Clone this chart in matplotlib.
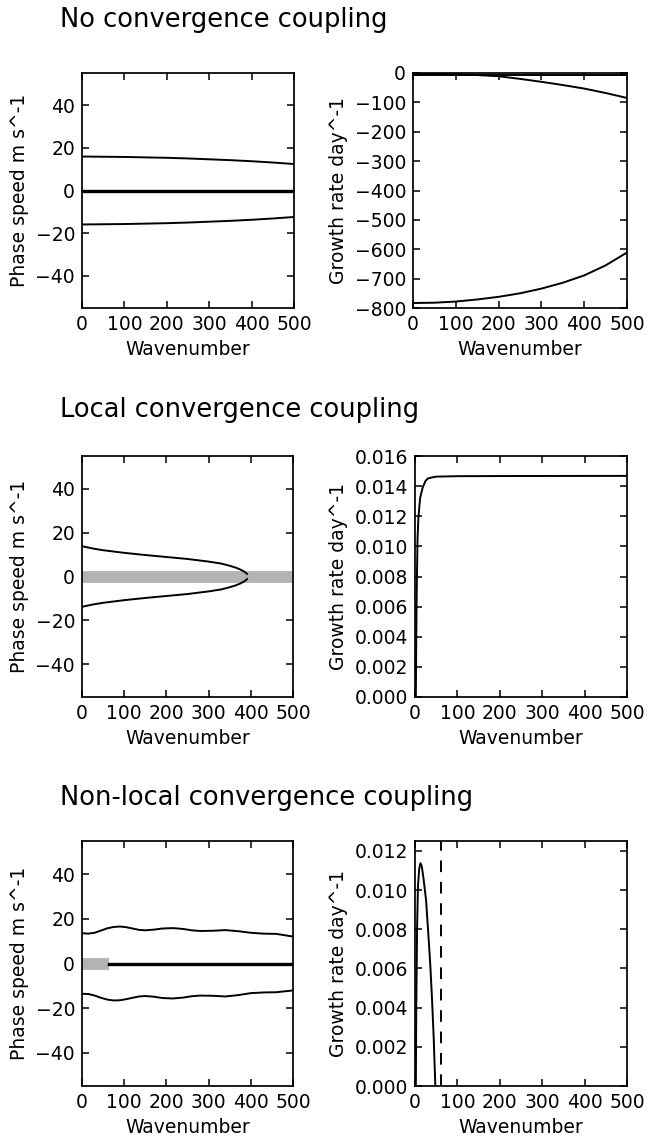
import numpy as np
import matplotlib
matplotlib.use("Agg")
import matplotlib.pyplot as plt

# wavenumbers and values
# --- no convergence coupling ---
k_nc = [0, 50, 100, 150, 200, 250, 300, 350, 400, 450, 500]
c_nc_up = [15.9, 15.8, 15.7, 15.5, 15.3, 15.0, 14.6, 14.2, 13.7, 13.1, 12.4]
c_nc_lo = [-15.9, -15.8, -15.7, -15.5, -15.3, -15.0, -14.6, -14.2, -13.7, -13.1, -12.4]
c_nc_mid = [0, 0, 0, 0, 0, 0, 0, 0, 0, 0, 0]
g_nc_flat = [-8, -8, -8, -8, -8, -8, -8, -8, -8, -8, -8]
g_nc_a = [-1, -2, -4, -7, -11, -20, -30, -41, -53, -68, -85]
g_nc_b = [-783, -782, -778, -771, -762, -750, -734, -714, -689, -655, -611]

# --- local convergence coupling ---
k_lc = [1, 25, 50, 100, 150, 200, 250, 300, 330, 350, 365, 375, 385, 391]
c_lc_up = [13.8, 12.8, 12.0, 10.8, 9.8, 8.9, 8.0, 6.8, 5.9, 4.9, 4.0, 3.2, 2.2, 1.2]
c_lc_lo = [-13.8, -12.8, -12.0, -10.8, -9.8, -8.9, -8.0, -6.8, -5.9, -4.9, -4.0, -3.2, -2.2, -1.2]
k_lc_band = [0, 500]
c_lc_band = [0, 0]
k_lc_g = [0, 2, 3, 4, 6, 8, 12, 18, 25, 30, 40, 50, 100, 200, 500]
g_lc = [0, 0.0, 0.004, 0.007, 0.0105, 0.0119, 0.0132, 0.0139, 0.01435, 0.0145,
        0.01458, 0.01463, 0.01466, 0.01467, 0.01468]

# --- non-local convergence coupling ---
k_nl = [0, 15, 30, 45, 60, 75, 90, 105, 120, 135, 150, 170, 190, 215, 240, 260,
        280, 310, 340, 370, 400, 430, 460, 500]
c_nl_up = [13.6, 13.4, 13.8, 14.8, 15.8, 16.4, 16.6, 16.3, 15.7, 15.1, 14.9, 15.2,
           15.7, 15.9, 15.5, 14.9, 14.6, 14.7, 15.0, 14.5, 13.8, 13.4, 13.3, 12.1]
c_nl_lo = [-13.6, -13.7, -14.4, -15.4, -16.2, -16.6, -16.5, -16.0, -15.4, -14.8,
           -14.6, -14.9, -15.5, -15.7, -15.3, -14.7, -14.4, -14.5, -14.8, -14.2,
           -13.3, -13.0, -12.9, -12.1]
k_nl_band = [0, 64]
k_nl_zero = [64, 500]
c_zero = [0, 0]
k_nl_g = [0, 2, 3, 5, 7, 10, 13, 16, 20, 26, 31, 36, 40, 44, 48]
g_nl = [0, 0.0, 0.004, 0.0082, 0.0102, 0.0111, 0.01137, 0.0112, 0.0106, 0.0095,
        0.0079, 0.0062, 0.0045, 0.0025, 0.0]
k_cut = 61

titles = ["No convergence coupling", "Local convergence coupling",
          "Non-local convergence coupling"]

plt.rcParams["font.family"] = "DejaVu Sans"
plt.rcParams["font.size"] = 13.5
plt.rcParams["axes.linewidth"] = 1.25
plt.rcParams["axes.labelpad"] = 4.5
plt.rcParams["xtick.direction"] = "in"
plt.rcParams["ytick.direction"] = "in"
plt.rcParams["xtick.top"] = True
plt.rcParams["ytick.right"] = True
plt.rcParams["xtick.major.size"] = 5
plt.rcParams["ytick.major.size"] = 5
plt.rcParams["xtick.major.width"] = 1.1
plt.rcParams["ytick.major.width"] = 1.1
plt.rcParams["xtick.major.pad"] = 5
plt.rcParams["ytick.major.pad"] = 5

W, H = 648, 1140
fig = plt.figure(figsize=(W / 100, H / 100), dpi=100)
LW = 1.4


def box(x0, x1, y0, y1):
    return fig.add_axes([x0 / W, (H - y1) / H, (x1 - x0) / W, (y1 - y0) / H])


def phase_axes(ax):
    ax.set_xlim(0, 500)
    ax.set_ylim(-55, 55)
    ax.set_yticks([-40, -20, 0, 20, 40])
    ax.set_xticks([0, 100, 200, 300, 400, 500])
    ax.set_xlabel("Wavenumber")
    ax.set_ylabel("Phase speed m s^-1")


def growth_axes(ax):
    ax.set_xlim(0, 500)
    ax.set_xticks([0, 100, 200, 300, 400, 500])
    ax.set_xlabel("Wavenumber")
    ax.set_ylabel("Growth rate day^-1")


# row 1
ax = box(82, 294, 73, 308)
ax.plot(k_nc, c_nc_up, color="k", lw=LW)
ax.plot(k_nc, c_nc_lo, color="k", lw=LW)
ax.plot(k_nc, c_nc_mid, color="k", lw=2.4)
phase_axes(ax)

ax = box(413, 627, 73, 308)
ax.plot(k_nc, g_nc_flat, color="k", lw=LW)
ax.plot(k_nc, g_nc_a, color="k", lw=LW)
ax.plot(k_nc, g_nc_b, color="k", lw=LW)
ax.set_ylim(-800, 0)
ax.set_yticks(np.arange(-800, 1, 100))
growth_axes(ax)

# row 2
ax = box(82, 293, 456, 697)
ax.plot(k_lc_band, c_lc_band, color="0.7", lw=8.5, solid_capstyle="butt")
ax.plot(k_lc, c_lc_up, color="k", lw=LW)
ax.plot(k_lc, c_lc_lo, color="k", lw=LW)
phase_axes(ax)

ax = box(415, 627, 456, 697)
ax.plot(k_lc_g, g_lc, color="k", lw=LW)
ax.set_ylim(0, 0.016)
ax.set_yticks(np.arange(0, 0.0161, 0.002))
ax.yaxis.set_major_formatter(matplotlib.ticker.FormatStrFormatter("%.3f"))
growth_axes(ax)

# row 3
ax = box(82, 293, 841, 1086)
ax.plot(k_nl_band, c_zero, color="0.7", lw=8.5, solid_capstyle="butt")
ax.plot(k_nl_zero, c_zero, color="k", lw=2.4)
ax.plot(k_nl, c_nl_up, color="k", lw=LW)
ax.plot(k_nl, c_nl_lo, color="k", lw=LW)
phase_axes(ax)

ax = box(415, 627, 841, 1086)
ax.plot(k_nl_g, g_nl, color="k", lw=LW)
ax.axvline(k_cut, color="k", lw=LW, ls=(0, (6, 5)))
ax.set_ylim(0, 0.0125)
ax.set_yticks(np.arange(0, 0.0121, 0.002))
ax.yaxis.set_major_formatter(matplotlib.ticker.FormatStrFormatter("%.3f"))
growth_axes(ax)

for t, y in zip(titles, [20, 410, 798]):
    fig.text(60 / W, 1 - y / H, t, fontsize=18.5, ha="left", va="center")

fig.savefig("out.png", dpi=100)
